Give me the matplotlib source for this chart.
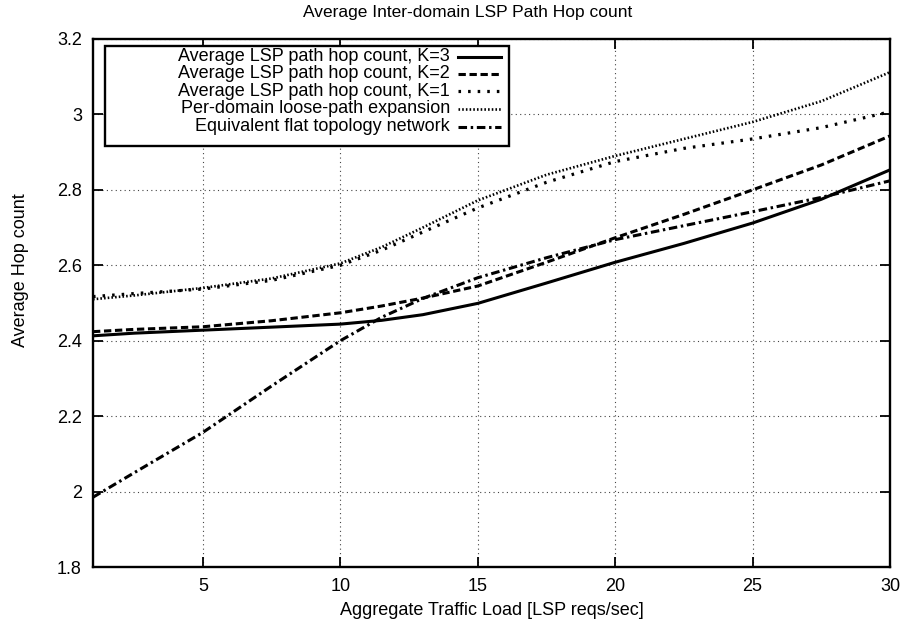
import matplotlib
matplotlib.use("Agg")
import matplotlib.pyplot as plt
from matplotlib.lines import Line2D
from matplotlib.patches import Rectangle
from matplotlib.ticker import FuncFormatter, MultipleLocator

plt.rcParams['font.family'] = ['Liberation Sans', 'DejaVu Sans']

load = [1, 2.5, 5, 7.5, 10, 11.5, 13, 15, 17.5, 20, 22.5, 25, 27.5, 30]
k3 = [2.413, 2.420, 2.428, 2.436, 2.444, 2.454, 2.469, 2.499, 2.553, 2.608, 2.658, 2.712, 2.775, 2.853]
k2 = [2.424, 2.430, 2.437, 2.453, 2.474, 2.492, 2.513, 2.545, 2.608, 2.673, 2.735, 2.800, 2.866, 2.943]
k1 = [2.517, 2.525, 2.537, 2.560, 2.600, 2.640, 2.688, 2.752, 2.820, 2.875, 2.910, 2.935, 2.965, 3.007]
perdomain = [2.510, 2.520, 2.540, 2.565, 2.605, 2.648, 2.700, 2.772, 2.840, 2.890, 2.935, 2.980, 3.035, 3.112]
flat = [1.985, 2.050, 2.157, 2.280, 2.400, 2.462, 2.512, 2.567, 2.620, 2.668, 2.705, 2.742, 2.780, 2.824]

labels = ["Average LSP path hop count, K=3",
          "Average LSP path hop count, K=2",
          "Average LSP path hop count, K=1",
          "Per-domain loose-path expansion",
          "Equivalent flat topology network"]
series = [k3, k2, k1, perdomain, flat]
styles = [
    dict(color='black', lw=2.2, linestyle='-'),
    dict(color='black', lw=2.2, linestyle=(0, (2.4, 1.2))),
    dict(color='black', lw=2.3, linestyle=(0, (0.8, 2.2)), dash_capstyle='butt'),
    dict(color='black', lw=1.9, linestyle=(0, (0.6, 0.8)), dash_capstyle='butt'),
    dict(color='black', lw=2.2, linestyle=(0, (2.8, 1.2, 0.8, 1.2))),
]

fig = plt.figure(figsize=(9.05, 6.26), dpi=100)
ax = fig.add_axes([93/905, 1-567/626, 797/905, 528/626])

for ys, st in zip(series, styles):
    ax.plot(load, ys, **st)

ax.set_xlim(1, 30)
ax.set_ylim(1.8, 3.2)
ax.xaxis.set_major_locator(MultipleLocator(5))
ax.yaxis.set_major_locator(MultipleLocator(0.2))
ax.yaxis.set_major_formatter(FuncFormatter(lambda v, p: '%g' % round(v, 2)))
ax.tick_params(direction='in', length=7, width=1.3, top=True, right=True,
               labelsize=13, pad=8)
for sp in ax.spines.values():
    sp.set_linewidth(1.7)
ax.grid(True, color='#444444', linestyle=(0, (1, 3)), linewidth=0.8)

ax.set_xlabel("Aggregate Traffic Load [LSP reqs/sec]", fontsize=13, labelpad=5)
ax.set_ylabel("Average Hop count", fontsize=13)
ax.yaxis.set_label_coords(-0.080, 0.5625)
fig.text(468/905, 1 - 13/626, "Average Inter-domain LSP Path Hop count",
         ha='center', va='center', fontsize=12.5)

# gnuplot-style key
box_l, box_r, box_t, box_b = 0.015, 0.522, 0.987, 0.797
ax.add_patch(Rectangle((box_l, box_b), box_r - box_l, box_t - box_b, transform=ax.transAxes,
                       fill=True, facecolor='white', edgecolor='black', lw=1.7, zorder=5))
rows = [0.966, 0.934, 0.901, 0.868, 0.834]
for lab, st, yy in zip(labels, styles, rows):
    ax.text(0.448, yy, lab, transform=ax.transAxes, ha='right', va='center',
            fontsize=13, zorder=6)
    ax.add_line(Line2D([0.458, 0.512], [yy, yy], transform=ax.transAxes, zorder=6, **st))

fig.savefig("out.png", dpi=100)
